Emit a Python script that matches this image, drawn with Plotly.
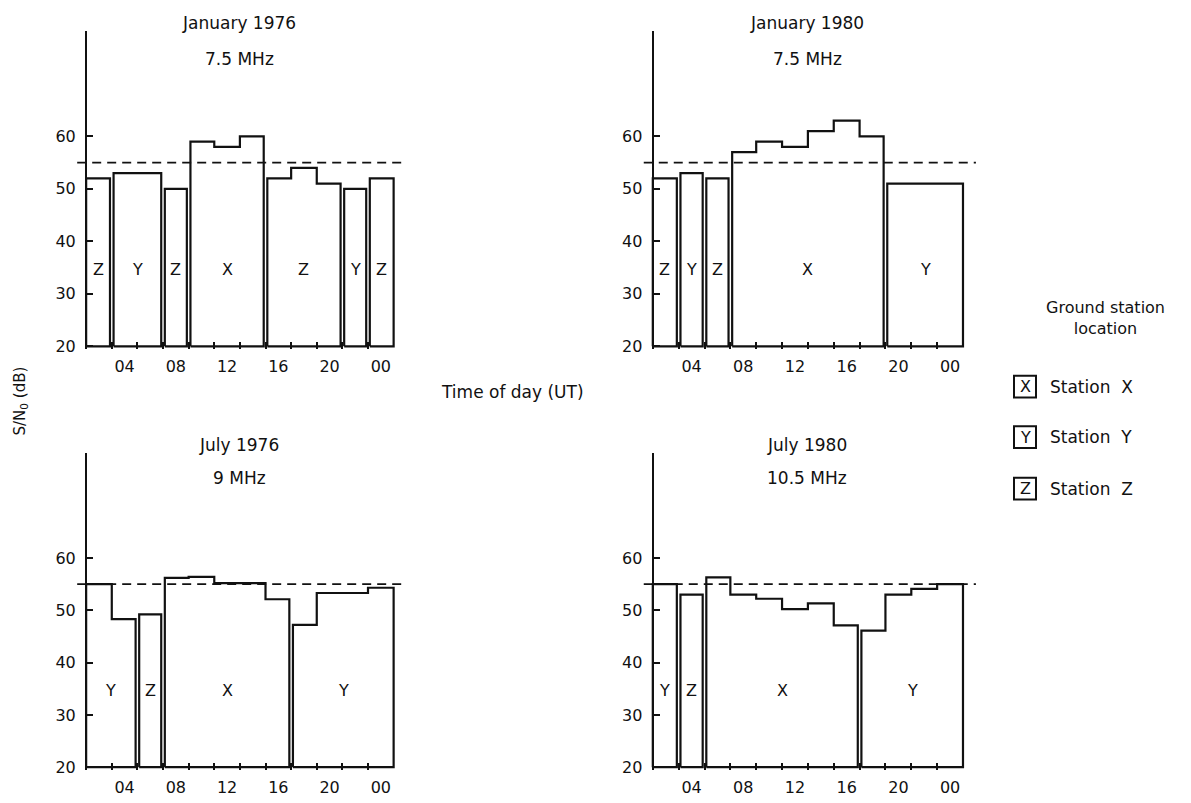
import plotly.graph_objects as go

# ---------------- data ----------------
hour_tick_vals = [4, 8, 12, 16, 20, 24]
hour_tick_text = ["04", "08", "12", "16", "20", "00"]
minor_hours = [3, 5, 7, 9, 11, 13, 15, 17, 19, 21, 23]
db_tick_vals = [20, 30, 40, 50, 60]
threshold_db = 55
day_start = 1
day_end = 25

jan76_starts = [1, 3, 7, 9, 11, 13, 15, 17, 19, 21, 23]
jan76_values = [52, 53, 50, 59, 58, 60, 52, 54, 51, 50, 52]
jan76_stations = ["Z", "Y", "Z", "X", "X", "X", "Z", "Z", "Z", "Y", "Z"]

jan80_starts = [1, 3, 5, 7, 9, 11, 13, 15, 17, 19]
jan80_values = [52, 53, 52, 57, 59, 58, 61, 63, 60, 51]
jan80_stations = ["Z", "Y", "Z", "X", "X", "X", "X", "X", "X", "Y"]

jul76_starts = [1, 3, 5, 7, 9, 11, 13, 15, 17, 19, 21, 23]
jul76_values = [55, 48.3, 49.2, 56.2, 56.4, 55.2, 55.2, 52.1, 47.2, 53.3, 53.3, 54.3]
jul76_stations = ["Y", "Y", "Z", "X", "X", "X", "X", "X", "Y", "Y", "Y", "Y"]

jul80_starts = [1, 3, 5, 7, 9, 11, 13, 15, 17, 19, 21, 23]
jul80_values = [55, 53, 56.3, 53, 52.2, 50.2, 51.3, 47.1, 46.1, 53, 54.1, 55]
jul80_stations = ["Y", "Z", "X", "X", "X", "X", "X", "X", "Y", "Y", "Y", "Y"]

panel_titles = [
    ("January 1976", "7.5 MHz"),
    ("January 1980", "7.5 MHz"),
    ("July 1976", "9 MHz"),
    ("July 1980", "10.5 MHz"),
]
legend_stations = ["X", "Y", "Z"]

panels = [
    (jan76_starts, jan76_values, jan76_stations),
    (jan80_starts, jan80_values, jan80_stations),
    (jul76_starts, jul76_values, jul76_stations),
    (jul80_starts, jul80_values, jul80_stations),
]

# ---------------- layout geometry ----------------
W, H = 1191, 803
FONT = "DejaVu Sans"
INK = "#111111"
XR = [-0.3, 26.2]
YR = [19.5, 80]
BASE = 20
col_px = [(69.5, 409.0), (636.0, 978.5)]
row_px = [(31.7, 352.0), (457.3, 776.6)]  # top, bottom


def px_x(p):
    return p / W


def px_y(p):
    return 1 - p / H


def txt(x, y, text, size=17, **kw):
    d = dict(x=px_x(x), y=px_y(y), xref="paper", yref="paper", text=text,
             showarrow=False, xanchor="center", yanchor="middle",
             font=dict(family=FONT, size=size, color=INK))
    d.update(kw)
    return d


fig = go.Figure()
annotations = []
shapes = []
layout_axes = {}

for i, (starts, values, stations) in enumerate(panels):
    r, c = divmod(i, 2)
    n = i + 1
    xa = "x" if n == 1 else f"x{n}"
    ya = "y" if n == 1 else f"y{n}"
    x0p, x1p = col_px[c]
    t_p, b_p = row_px[r]
    xdom = [px_x(x0p), px_x(x1p)]
    ydom = [px_y(b_p), px_y(t_p)]
    ends = starts[1:] + [day_end]

    # group into station blocks
    blocks = []
    for s, e, v, st in zip(starts, ends, values, stations):
        if blocks and blocks[-1]["st"] == st:
            blocks[-1]["segs"].append((s, e, v))
        else:
            blocks.append({"st": st, "segs": [(s, e, v)]})

    gap = 0.14
    for b in blocks:
        segs = b["segs"]
        bx0 = segs[0][0] + (gap if segs[0][0] > day_start else 0)
        bx1 = segs[-1][1] - (gap if segs[-1][1] < day_end else 0)
        xs = [bx0, bx0]
        ys = [BASE, segs[0][2]]
        for k, (s, e, v) in enumerate(segs):
            xe = bx1 if k == len(segs) - 1 else e
            xs.append(xe)
            ys.append(v)
            if k < len(segs) - 1:
                xs.append(xe)
                ys.append(segs[k + 1][2])
        xs += [bx1, bx0]
        ys += [BASE, BASE]
        fig.add_trace(go.Scatter(x=xs, y=ys, mode="lines", xaxis=xa, yaxis=ya,
                                 line=dict(color=INK, width=2.2), showlegend=False,
                                 hoverinfo="skip"))
        annotations.append(dict(x=(bx0 + bx1) / 2, y=34.7, xref=xa, yref=ya,
                                text=b["st"], showarrow=False,
                                xanchor="center", yanchor="middle",
                                font=dict(family=FONT, size=16, color=INK)))

    # threshold dashed line
    fig.add_trace(go.Scatter(x=[0.3, 26.0], y=[threshold_db, threshold_db], mode="lines",
                             xaxis=xa, yaxis=ya, showlegend=False, hoverinfo="skip",
                             line=dict(color=INK, width=1.8, dash="9px,6px")))

    ypos = xdom[0] + (day_start - XR[0]) / (XR[1] - XR[0]) * (xdom[1] - xdom[0])
    key_x = "xaxis" if n == 1 else f"xaxis{n}"
    key_y = "yaxis" if n == 1 else f"yaxis{n}"
    layout_axes[key_x] = dict(
        domain=xdom, range=XR, anchor=ya, showgrid=False, zeroline=False,
        showline=False, tickmode="array", tickvals=hour_tick_vals,
        ticktext=hour_tick_text, ticks="", ticklabelstandoff=6,
        tickfont=dict(family=FONT, size=16, color=INK),
        minor=dict(tickmode="array", tickvals=minor_hours, ticks="inside",
                   ticklen=7, tickwidth=1.5, tickcolor=INK),
        fixedrange=True,
    )
    layout_axes[key_y] = dict(
        domain=ydom, range=YR, anchor="free", position=ypos, showgrid=False,
        zeroline=False, showline=True, linecolor=INK, linewidth=2.4,
        tickmode="array", tickvals=db_tick_vals, ticks="inside", ticklen=6,
        tickwidth=1.5, tickcolor=INK, ticklabelstandoff=6,
        tickfont=dict(family=FONT, size=16, color=INK), fixedrange=True,
    )

    # titles
    cx = (x0p + x1p) / 2
    t1y, t2y = (23, 60) if r == 0 else (449, 482)
    annotations.append(txt(cx, t1y, panel_titles[i][0]))
    annotations.append(txt(cx, t2y, panel_titles[i][1]))

# axis titles
annotations.append(txt(20, 405, "S/N<sub>0</sub> (dB)", size=15, textangle=-90))
annotations.append(txt(512, 395, "Time of day (UT)"))

# station legend
annotations.append(txt(1105, 321, "Ground station<br>location", size=16, align="center"))
leg_y = [390, 441, 493]
for st, yy in zip(legend_stations, leg_y):
    shapes.append(dict(type="rect", xref="paper", yref="paper",
                       x0=px_x(1014), x1=px_x(1036), y0=px_y(yy + 11), y1=px_y(yy - 11),
                       line=dict(color=INK, width=2)))
    annotations.append(txt(1025, yy, st, size=16))
    annotations.append(txt(1048, yy, f"Station  {st}", xanchor="left"))

fig.update_layout(
    width=W, height=H, margin=dict(l=0, r=0, t=0, b=0),
    paper_bgcolor="white", plot_bgcolor="white",
    annotations=annotations, shapes=shapes, showlegend=False,
    **layout_axes,
)

fig.write_html("out.html", config={"displayModeBar": False},
               post_script="document.body.style.margin='0';document.body.style.overflow='hidden';")
